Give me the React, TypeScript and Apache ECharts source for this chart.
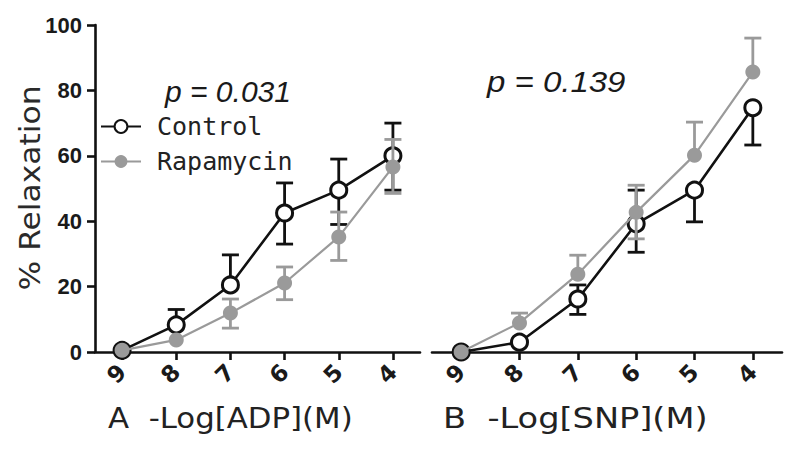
import React, { useEffect, useRef } from "react";
import * as echarts from "echarts";

const categories = ["9", "8", "7", "6", "5", "4"];
const yTicks = [0, 20, 40, 60, 80, 100];

// Panel A: -Log[ADP]
const controlA = [0.5, 8.3, 20.5, 42.5, 49.5, 60];
const controlAHigh = [null, 13, 29.7, 51.7, 59, 70];
const controlALow = [null, null, null, 33, 39, 49.5];
const rapaA = [0.5, 3.7, 11.9, 21.1, 35.2, 56.6];
const rapaAHigh = [null, null, 16.2, 26, 42.8, 65];
const rapaALow = [null, null, 7.3, 16, 28, 48.5];

// Panel B: -Log[SNP]
const controlB = [0, 3, 16.2, 39.2, 49.5, 74.7];
const controlBHigh = [null, null, 20.5, 49.5, null, null];
const controlBLow = [null, null, 11.5, 30.5, 39.8, 63.3];
const rapaB = [0, 8.9, 23.8, 42.7, 60.2, 85.6];
const rapaBHigh = [null, 11.9, 29.6, 51, 70.3, 96];
const rapaBLow = [null, null, null, 34.6, null, null];

const pA = "p = 0.031";
const pB = "p = 0.139";

const BLACK = "#111111";
const GREY = "#9a9a9a";

function errItems(mean: number[], high: (number | null)[], low: (number | null)[]) {
  const out: number[][] = [];
  mean.forEach((m, i) => {
    if (high[i] != null) out.push([i, m, high[i] as number]);
    if (low[i] != null) out.push([i, m, low[i] as number]);
  });
  return out;
}

function errSeries(name: string, idx: number, data: number[][], color: string, z: number) {
  return {
    type: "custom",
    name,
    xAxisIndex: idx,
    yAxisIndex: idx,
    z,
    encode: { x: 0, y: [1, 2] },
    data,
    renderItem: (params: any, api: any) => {
      const p0 = api.coord([api.value(0), api.value(1)]);
      const p1 = api.coord([api.value(0), api.value(2)]);
      const hw = 8.5;
      return {
        type: "group",
        children: [
          { type: "line", shape: { x1: p0[0], y1: p0[1], x2: p1[0], y2: p1[1] }, style: { stroke: color, lineWidth: 2.8 } },
          { type: "line", shape: { x1: p1[0] - hw, y1: p1[1], x2: p1[0] + hw, y2: p1[1] }, style: { stroke: color, lineWidth: 2.8 } },
        ],
      };
    },
  };
}

function lineSeries(name: string, idx: number, data: number[], control: boolean, z: number) {
  return control
    ? {
        type: "line",
        name,
        xAxisIndex: idx,
        yAxisIndex: idx,
        z,
        data,
        symbol: "circle",
        symbolSize: 16,
        itemStyle: { color: "#ffffff", borderColor: BLACK, borderWidth: 3 },
        lineStyle: { color: BLACK, width: 2.6 },
      }
    : {
        type: "line",
        name,
        xAxisIndex: idx,
        yAxisIndex: idx,
        z,
        data,
        symbol: "circle",
        symbolSize: 15,
        itemStyle: { color: GREY, borderColor: GREY, borderWidth: 0 },
        lineStyle: { color: GREY, width: 2.2 },
      };
}

export default function App() {
  const ref = useRef<HTMLDivElement>(null);
  useEffect(() => {
    if (!ref.current) return;
    const chart = echarts.init(ref.current, null, { renderer: "svg" });
    const xAxisCommon = {
      type: "category",
      data: categories,
      boundaryGap: true,
      axisLine: { show: true, onZero: false, lineStyle: { color: BLACK, width: 2.6 } },
      axisTick: { show: true, alignWithLabel: true, length: 8, lineStyle: { color: BLACK, width: 2.6 } },
      axisLabel: {
        rotate: 45,
        margin: 16,
        fontFamily: "DejaVu Sans",
        fontWeight: "bold",
        fontSize: 23,
        color: "#1a1a1a",
      },
      splitLine: { show: false },
    };
    chart.setOption({
      animation: false,
      backgroundColor: "#ffffff",
      grid: [
        { left: 95, top: 25, width: 325, height: 327 },
        { left: 432, top: 25, width: 350, height: 327 },
      ],
      xAxis: [
        { ...xAxisCommon, gridIndex: 0 },
        { ...xAxisCommon, gridIndex: 1 },
      ],
      yAxis: [
        {
          type: "value",
          gridIndex: 0,
          min: 0,
          max: 100,
          interval: 20,
          axisLine: { show: true, lineStyle: { color: BLACK, width: 2.6 } },
          axisTick: { show: true, length: 8, lineStyle: { color: BLACK, width: 2.6 } },
          axisLabel: {
            margin: 13,
            fontFamily: "Liberation Sans",
            fontWeight: "bold",
            fontSize: 22,
            color: "#1a1a1a",
            formatter: (v: number) => (yTicks.includes(v) ? String(v) : ""),
          },
          splitLine: { show: false },
        },
        {
          type: "value",
          gridIndex: 1,
          min: 0,
          max: 100,
          interval: 20,
          show: false,
          splitLine: { show: false },
        },
      ],
      legend: {
        orient: "vertical",
        left: 100,
        top: 114,
        padding: 0,
        itemWidth: 40,
        itemHeight: 16,
        itemGap: 10,
        data: ["Control", "Rapamycin"],
        textStyle: {
          fontFamily: "DejaVu Sans Mono",
          fontSize: 25,
          lineHeight: 25,
          color: "#222222",
          padding: [0, 0, 0, 11],
        },
      },
      graphic: [
        {
          type: "text",
          x: 30,
          y: 188,
          rotation: Math.PI / 2,
          scaleX: 1.12,
          style: {
            text: "% Relaxation",
            font: "28px 'DejaVu Sans'",
            fill: "#2a2a2a",
            textAlign: "center",
            textVerticalAlign: "middle",
          },
        },
        {
          type: "text",
          x: 108,
          y: 418,
          scaleX: 1.1,
          style: {
            text: "A  -Log[ADP](M)",
            font: "28px 'DejaVu Sans'",
            fill: "#222222",
            textAlign: "left",
            textVerticalAlign: "middle",
          },
        },
        {
          type: "text",
          x: 443,
          y: 418,
          scaleX: 1.2,
          style: {
            text: "B  -Log[SNP](M)",
            font: "28px 'DejaVu Sans'",
            fill: "#222222",
            textAlign: "left",
            textVerticalAlign: "middle",
          },
        },
        {
          type: "text",
          x: 165,
          y: 91,
          style: {
            text: pA,
            font: "italic 30px 'Liberation Sans'",
            fill: "#1a1a1a",
            textAlign: "left",
            textVerticalAlign: "middle",
          },
        },
        {
          type: "text",
          x: 487,
          y: 82,
          scaleX: 1.1,
          style: {
            text: pB,
            font: "italic 30px 'Liberation Sans'",
            fill: "#1a1a1a",
            textAlign: "left",
            textVerticalAlign: "middle",
          },
        },
      ],
      series: [
        errSeries("Control SEM A", 0, errItems(controlA, controlAHigh, controlALow), BLACK, 2),
        lineSeries("Control", 0, controlA, true, 3),
        errSeries("Rapamycin SEM A", 0, errItems(rapaA, rapaAHigh, rapaALow), GREY, 4),
        lineSeries("Rapamycin", 0, rapaA, false, 5),
        errSeries("Control SEM B", 1, errItems(controlB, controlBHigh, controlBLow), BLACK, 2),
        lineSeries("Control", 1, controlB, true, 3),
        errSeries("Rapamycin SEM B", 1, errItems(rapaB, rapaBHigh, rapaBLow), GREY, 4),
        lineSeries("Rapamycin", 1, rapaB, false, 5),
      ],
    });
    return () => chart.dispose();
  }, []);
  return <div ref={ref} style={{ width: 800, height: 458, margin: -8 }} />;
}
